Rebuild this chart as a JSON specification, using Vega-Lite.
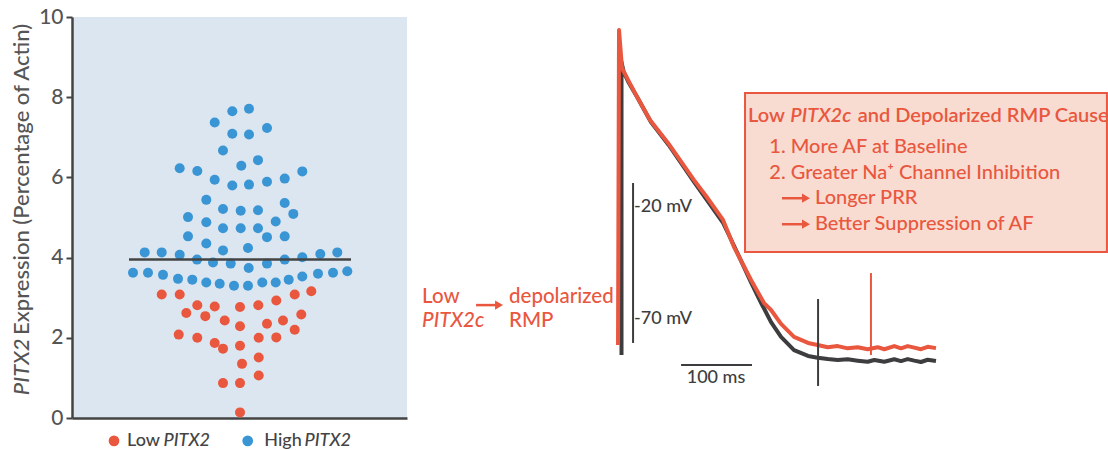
{
  "$schema": "https://vega.github.io/schema/vega-lite/v6.json",
  "padding": {"left": 10, "top": 6, "right": 0, "bottom": 0},
  "background": "white",
  "config": {"font": "Lato", "view": {"stroke": null}, "text": {"fontWeight": 500}},
  "bounds": "flush",
  "spacing": 0,
  "resolve": {"scale": {"x": "independent", "y": "independent", "color": "independent"}},
  "datasets": {
    "swarm": [
      {"group": "Low PITX2", "jitter": -78.3, "expression": 3.08},
      {"group": "Low PITX2", "jitter": -60.3, "expression": 3.08},
      {"group": "Low PITX2", "jitter": -53.7, "expression": 2.62},
      {"group": "Low PITX2", "jitter": -42.7, "expression": 2.81},
      {"group": "Low PITX2", "jitter": -34.7, "expression": 2.54},
      {"group": "Low PITX2", "jitter": -25.3, "expression": 2.78},
      {"group": "Low PITX2", "jitter": -15.3, "expression": 2.43},
      {"group": "Low PITX2", "jitter": 0, "expression": 2.77},
      {"group": "Low PITX2", "jitter": 0, "expression": 2.29},
      {"group": "Low PITX2", "jitter": 18.3, "expression": 2.81},
      {"group": "Low PITX2", "jitter": 27, "expression": 2.35},
      {"group": "Low PITX2", "jitter": 36.3, "expression": 2.93},
      {"group": "Low PITX2", "jitter": 43, "expression": 2.43},
      {"group": "Low PITX2", "jitter": 54.7, "expression": 3.08},
      {"group": "Low PITX2", "jitter": 61.3, "expression": 2.58},
      {"group": "Low PITX2", "jitter": 71.3, "expression": 3.16},
      {"group": "Low PITX2", "jitter": 54.7, "expression": 2.2},
      {"group": "Low PITX2", "jitter": -61.3, "expression": 2.08},
      {"group": "Low PITX2", "jitter": -42.7, "expression": 2.0},
      {"group": "Low PITX2", "jitter": -25.3, "expression": 1.87},
      {"group": "Low PITX2", "jitter": -17, "expression": 1.73},
      {"group": "Low PITX2", "jitter": 0, "expression": 1.8},
      {"group": "Low PITX2", "jitter": 18.7, "expression": 2.0},
      {"group": "Low PITX2", "jitter": 36.3, "expression": 2.01},
      {"group": "Low PITX2", "jitter": 2, "expression": 1.35},
      {"group": "Low PITX2", "jitter": 18.7, "expression": 1.51},
      {"group": "Low PITX2", "jitter": 18.7, "expression": 1.06},
      {"group": "Low PITX2", "jitter": -17, "expression": 0.87},
      {"group": "Low PITX2", "jitter": 0, "expression": 0.87},
      {"group": "Low PITX2", "jitter": 0, "expression": 0.14},
      {"group": "High PITX2", "jitter": -107, "expression": 3.62},
      {"group": "High PITX2", "jitter": -92, "expression": 3.62},
      {"group": "High PITX2", "jitter": -77, "expression": 3.57},
      {"group": "High PITX2", "jitter": -62, "expression": 3.47},
      {"group": "High PITX2", "jitter": -47.7, "expression": 3.45},
      {"group": "High PITX2", "jitter": -33.7, "expression": 3.38},
      {"group": "High PITX2", "jitter": -20.3, "expression": 3.35},
      {"group": "High PITX2", "jitter": -6, "expression": 3.3},
      {"group": "High PITX2", "jitter": 8, "expression": 3.3},
      {"group": "High PITX2", "jitter": 22.3, "expression": 3.38},
      {"group": "High PITX2", "jitter": 35.7, "expression": 3.38},
      {"group": "High PITX2", "jitter": 48.7, "expression": 3.45},
      {"group": "High PITX2", "jitter": 62.3, "expression": 3.53},
      {"group": "High PITX2", "jitter": 78, "expression": 3.6},
      {"group": "High PITX2", "jitter": 93, "expression": 3.62},
      {"group": "High PITX2", "jitter": 107.3, "expression": 3.66},
      {"group": "High PITX2", "jitter": -95.3, "expression": 4.13},
      {"group": "High PITX2", "jitter": -78.3, "expression": 4.13},
      {"group": "High PITX2", "jitter": -60.3, "expression": 4.07},
      {"group": "High PITX2", "jitter": -43, "expression": 3.95},
      {"group": "High PITX2", "jitter": -27, "expression": 3.88},
      {"group": "High PITX2", "jitter": -9.3, "expression": 3.85},
      {"group": "High PITX2", "jitter": 8.7, "expression": 3.74},
      {"group": "High PITX2", "jitter": 27, "expression": 3.85},
      {"group": "High PITX2", "jitter": 44.7, "expression": 3.95},
      {"group": "High PITX2", "jitter": 62.3, "expression": 4.01},
      {"group": "High PITX2", "jitter": 80.3, "expression": 4.09},
      {"group": "High PITX2", "jitter": 97.3, "expression": 4.13},
      {"group": "High PITX2", "jitter": -33.7, "expression": 4.35},
      {"group": "High PITX2", "jitter": -17, "expression": 4.18},
      {"group": "High PITX2", "jitter": 8, "expression": 4.24},
      {"group": "High PITX2", "jitter": -52, "expression": 4.53},
      {"group": "High PITX2", "jitter": -17, "expression": 4.73},
      {"group": "High PITX2", "jitter": 0.7, "expression": 4.73},
      {"group": "High PITX2", "jitter": 18, "expression": 4.73},
      {"group": "High PITX2", "jitter": 27, "expression": 4.51},
      {"group": "High PITX2", "jitter": 44.7, "expression": 4.53},
      {"group": "High PITX2", "jitter": -33.7, "expression": 4.88},
      {"group": "High PITX2", "jitter": -52, "expression": 5.01},
      {"group": "High PITX2", "jitter": 35.7, "expression": 4.9},
      {"group": "High PITX2", "jitter": 53.3, "expression": 5.09},
      {"group": "High PITX2", "jitter": -17, "expression": 5.21},
      {"group": "High PITX2", "jitter": 0.7, "expression": 5.17},
      {"group": "High PITX2", "jitter": 18, "expression": 5.18},
      {"group": "High PITX2", "jitter": -33.7, "expression": 5.44},
      {"group": "High PITX2", "jitter": 44.7, "expression": 5.36},
      {"group": "High PITX2", "jitter": -60.3, "expression": 6.23},
      {"group": "High PITX2", "jitter": -42.7, "expression": 6.16},
      {"group": "High PITX2", "jitter": -25.3, "expression": 5.94},
      {"group": "High PITX2", "jitter": -7.7, "expression": 5.8},
      {"group": "High PITX2", "jitter": 9, "expression": 5.82},
      {"group": "High PITX2", "jitter": 27, "expression": 5.89},
      {"group": "High PITX2", "jitter": 44.7, "expression": 5.97},
      {"group": "High PITX2", "jitter": 62.3, "expression": 6.15},
      {"group": "High PITX2", "jitter": 1.3, "expression": 6.29},
      {"group": "High PITX2", "jitter": 18, "expression": 6.43},
      {"group": "High PITX2", "jitter": -17, "expression": 6.67},
      {"group": "High PITX2", "jitter": -7.7, "expression": 7.09},
      {"group": "High PITX2", "jitter": 9, "expression": 7.07},
      {"group": "High PITX2", "jitter": 27, "expression": 7.23},
      {"group": "High PITX2", "jitter": -25.3, "expression": 7.37},
      {"group": "High PITX2", "jitter": -7.7, "expression": 7.65},
      {"group": "High PITX2", "jitter": 9, "expression": 7.71}
    ],
    "traces": [
      {"series": "Normal", "i": 0, "t": 2.5, "v": -85.9},
      {"series": "Normal", "i": 1, "t": 2.5, "v": 45},
      {"series": "Normal", "i": 2, "t": 5.5, "v": 40.5},
      {"series": "Normal", "i": 3, "t": 13, "v": 35.5},
      {"series": "Normal", "i": 4, "t": 24.5, "v": 29.3},
      {"series": "Normal", "i": 5, "t": 44, "v": 18.1},
      {"series": "Normal", "i": 6, "t": 69, "v": 7.9},
      {"series": "Normal", "i": 7, "t": 105, "v": -8.7},
      {"series": "Normal", "i": 8, "t": 146, "v": -27},
      {"series": "Normal", "i": 9, "t": 164, "v": -39},
      {"series": "Normal", "i": 10, "t": 186, "v": -54},
      {"series": "Normal", "i": 11, "t": 200, "v": -63},
      {"series": "Normal", "i": 12, "t": 213.4, "v": -71.2},
      {"series": "Normal", "i": 13, "t": 227.5, "v": -77.8},
      {"series": "Normal", "i": 14, "t": 245.8, "v": -83.7},
      {"series": "Normal", "i": 15, "t": 265.6, "v": -86.3},
      {"series": "Normal", "i": 16, "t": 279.2, "v": -87.1},
      {"series": "Normal", "i": 17, "t": 293.3, "v": -87.7},
      {"series": "Normal", "i": 18, "t": 307.4, "v": -88.1},
      {"series": "Normal", "i": 19, "t": 321.5, "v": -87.8},
      {"series": "Normal", "i": 20, "t": 335.6, "v": -88.4},
      {"series": "Normal", "i": 21, "t": 349.7, "v": -88.9},
      {"series": "Normal", "i": 22, "t": 359.0, "v": -88.1},
      {"series": "Normal", "i": 23, "t": 373.1, "v": -88.9},
      {"series": "Normal", "i": 24, "t": 387.2, "v": -87.8},
      {"series": "Normal", "i": 25, "t": 396.6, "v": -88.6},
      {"series": "Normal", "i": 26, "t": 406.1, "v": -87.7},
      {"series": "Normal", "i": 27, "t": 415.4, "v": -88.4},
      {"series": "Normal", "i": 28, "t": 424.8, "v": -89.0},
      {"series": "Normal", "i": 29, "t": 434.3, "v": -88.0},
      {"series": "Normal", "i": 30, "t": 446.0, "v": -88.6},
      {"series": "Low PITX2c", "i": 0, "t": -2.4, "v": -81.4},
      {"series": "Low PITX2c", "i": 1, "t": -1.0, "v": 59.2},
      {"series": "Low PITX2c", "i": 2, "t": 3.2, "v": 42.2},
      {"series": "Low PITX2c", "i": 3, "t": 11.7, "v": 36.9},
      {"series": "Low PITX2c", "i": 4, "t": 23.0, "v": 30.2},
      {"series": "Low PITX2c", "i": 5, "t": 42.7, "v": 19.0},
      {"series": "Low PITX2c", "i": 6, "t": 68.1, "v": 8.8},
      {"series": "Low PITX2c", "i": 7, "t": 104.8, "v": -7.8},
      {"series": "Low PITX2c", "i": 8, "t": 121.7, "v": -14.9},
      {"series": "Low PITX2c", "i": 9, "t": 145.7, "v": -25.6},
      {"series": "Low PITX2c", "i": 10, "t": 161.2, "v": -37.7},
      {"series": "Low PITX2c", "i": 11, "t": 185.2, "v": -52.4},
      {"series": "Low PITX2c", "i": 12, "t": 203.5, "v": -62.7},
      {"series": "Low PITX2c", "i": 13, "t": 213.4, "v": -65.8},
      {"series": "Low PITX2c", "i": 14, "t": 227.5, "v": -72.0},
      {"series": "Low PITX2c", "i": 15, "t": 245.8, "v": -77.8},
      {"series": "Low PITX2c", "i": 16, "t": 265.6, "v": -80.5},
      {"series": "Low PITX2c", "i": 17, "t": 279.2, "v": -81.4},
      {"series": "Low PITX2c", "i": 18, "t": 293.3, "v": -82.4},
      {"series": "Low PITX2c", "i": 19, "t": 307.4, "v": -81.9},
      {"series": "Low PITX2c", "i": 20, "t": 321.5, "v": -82.9},
      {"series": "Low PITX2c", "i": 21, "t": 335.6, "v": -82.4},
      {"series": "Low PITX2c", "i": 22, "t": 349.7, "v": -83.3},
      {"series": "Low PITX2c", "i": 23, "t": 363.8, "v": -82.4},
      {"series": "Low PITX2c", "i": 24, "t": 373.1, "v": -83.3},
      {"series": "Low PITX2c", "i": 25, "t": 387.2, "v": -81.9},
      {"series": "Low PITX2c", "i": 26, "t": 396.6, "v": -82.9},
      {"series": "Low PITX2c", "i": 27, "t": 406.1, "v": -81.9},
      {"series": "Low PITX2c", "i": 28, "t": 415.4, "v": -82.6},
      {"series": "Low PITX2c", "i": 29, "t": 424.8, "v": -83.3},
      {"series": "Low PITX2c", "i": 30, "t": 434.3, "v": -82.2},
      {"series": "Low PITX2c", "i": 31, "t": 446.0, "v": -82.8}
    ]
  },
  "hconcat": [
    {
      "width": 335,
      "height": 401,
      "view": {"fill": "#dce6f0", "stroke": null},
      "layer": [
        {
          "data": {"name": "swarm"},
          "mark": {"type": "circle", "size": 100, "opacity": 1},
          "encoding": {
            "x": {"field": "jitter", "type": "quantitative", "scale": {"domain": [-168, 167], "nice": false, "zero": false},
                  "axis": {"labels": false, "ticks": false, "grid": false, "title": null, "domainColor": "#444444", "domainWidth": 2.5}},
            "y": {"field": "expression", "type": "quantitative", "scale": {"domain": [0, 10], "nice": false},
                  "axis": {"values": [0, 2, 4, 6, 8, 10], "grid": false, "title": null, "labelFontSize": 21, "labelColor": "#555555", "labelFont": "Lato", "labelFontWeight": 500,
                           "tickColor": "#444444", "tickWidth": 2, "tickSize": 6, "domainColor": "#444444", "domainWidth": 2.5, "labelPadding": 3}},
            "color": {"field": "group", "type": "nominal", "scale": {"domain": ["Low PITX2", "High PITX2"], "range": ["#e9573f", "#3a95d4"]}, "legend": null}
          }
        },
        {
          "data": {"values": [{}]},
          "mark": {"type": "rule", "color": "#444444", "strokeWidth": 2.5},
          "encoding": {
            "x": {"datum": -111, "scale": {"domain": [-168, 167], "nice": false, "zero": false}},
            "x2": {"datum": 111},
            "y": {"datum": 3.95, "scale": {"domain": [0, 10], "nice": false}}
          }
        },
        {
          "data": {"values": [{}]},
          "mark": {"type": "circle", "size": 115, "opacity": 1, "color": "#e9573f", "clip": false},
          "encoding": {"x": {"datum": -126}, "y": {"datum": -0.57}}
        },
        {
          "data": {"values": [{}]},
          "mark": {"type": "circle", "size": 115, "opacity": 1, "color": "#3a95d4", "clip": false},
          "encoding": {"x": {"datum": 7.7}, "y": {"datum": -0.57}}
        },
        {
          "data": {"values": [{}]},
          "mark": {"type": "text", "text": "Low", "align": "left", "baseline": "middle", "fontSize": 18, "color": "#444444", "font": "Lato"},
          "encoding": {"x": {"datum": -113}, "y": {"datum": -0.57}}
        },
        {
          "data": {"values": [{}]},
          "mark": {"type": "text", "text": "PITX2", "align": "left", "baseline": "middle", "fontSize": 18, "fontStyle": "italic", "color": "#444444", "font": "Lato"},
          "encoding": {"x": {"datum": -76.5}, "y": {"datum": -0.57}}
        },
        {
          "data": {"values": [{}]},
          "mark": {"type": "text", "text": "High", "align": "left", "baseline": "middle", "fontSize": 18, "color": "#444444", "font": "Lato"},
          "encoding": {"x": {"datum": 24.3}, "y": {"datum": -0.57}}
        },
        {
          "data": {"values": [{}]},
          "mark": {"type": "text", "text": "PITX2", "align": "left", "baseline": "middle", "fontSize": 18, "fontStyle": "italic", "color": "#444444", "font": "Lato"},
          "encoding": {"x": {"datum": 64.5}, "y": {"datum": -0.57}}
        },
        {
          "data": {"values": [{}]},
          "mark": {"type": "text", "text": "PITX2", "align": "left", "baseline": "middle", "angle": 270, "fontSize": 22, "fontStyle": "italic", "color": "#555555", "font": "Lato"},
          "encoding": {"x": {"datum": -218}, "y": {"datum": 0.57}}
        },
        {
          "data": {"values": [{}]},
          "mark": {"type": "text", "text": "Expression (Percentage of Actin)", "align": "left", "baseline": "middle", "angle": 270, "fontSize": 22, "color": "#555555", "font": "Lato"},
          "encoding": {"x": {"datum": -218}, "y": {"datum": 2.07}}
        }
      ]
    },
    {
      "width": 702,
      "height": 401,
      "layer": [
        {
          "data": {"values": [{"t1": 176.7, "t2": 687.1, "v1": 31.1, "v2": -39.9}]},
          "mark": {"type": "rect", "fill": "#f8dcd1", "stroke": "#e9573f", "strokeWidth": 2},
          "encoding": {
            "x": {"field": "t1", "type": "quantitative", "scale": {"domain": [-300, 690], "nice": false, "zero": false}, "axis": null},
            "x2": {"field": "t2"},
            "y": {"field": "v1", "type": "quantitative", "scale": {"domain": [-114, 65], "nice": false, "zero": false}, "axis": null},
            "y2": {"field": "v2"}
          }
        },
        {
          "data": {"name": "traces"},
          "transform": [{"filter": "datum.series === 'Normal'"}],
          "mark": {"type": "line", "color": "#3d3d40", "strokeWidth": 4, "strokeJoin": "round"},
          "encoding": {
            "x": {"field": "t", "type": "quantitative"},
            "y": {"field": "v", "type": "quantitative"},
            "order": {"field": "i", "type": "quantitative"}
          }
        },
        {
          "data": {"name": "traces"},
          "transform": [{"filter": "datum.series === 'Low PITX2c'"}],
          "mark": {"type": "line", "color": "#e9573f", "strokeWidth": 4, "strokeJoin": "round"},
          "encoding": {
            "x": {"field": "t", "type": "quantitative"},
            "y": {"field": "v", "type": "quantitative"},
            "order": {"field": "i", "type": "quantitative"}
          }
        },
        {
          "data": {"values": [
            {"t1": 18.8, "t2": 18.8, "v1": -9.1, "v2": -80.5},
            {"t1": 86.5, "t2": 186.5, "v1": -90.3, "v2": -90.3},
            {"t1": 279.7, "t2": 279.7, "v1": -60.9, "v2": -99.7}
          ]},
          "mark": {"type": "rule", "color": "#3d3d40", "strokeWidth": 2},
          "encoding": {
            "x": {"field": "t1", "type": "quantitative"}, "x2": {"field": "t2"},
            "y": {"field": "v1", "type": "quantitative"}, "y2": {"field": "v2"}
          }
        },
        {
          "data": {"values": [{"t1": 354.3, "t2": 354.3, "v1": -49.3, "v2": -85.9}]},
          "mark": {"type": "rule", "color": "#e9573f", "strokeWidth": 2},
          "encoding": {
            "x": {"field": "t1", "type": "quantitative"}, "x2": {"field": "t2"},
            "y": {"field": "v1", "type": "quantitative"}, "y2": {"field": "v2"}
          }
        },
        {
          "data": {"values": [
            {"from": -202.6, "to": -170.2, "level": -63.6},
            {"from": 228.8, "to": 262.7, "level": -15.9},
            {"from": 228.8, "to": 262.7, "level": -27.5}
          ]},
          "layer": [
            {
              "mark": {"type": "rule", "color": "#e9573f", "strokeWidth": 2.5},
              "encoding": {
                "x": {"field": "from", "type": "quantitative"}, "x2": {"field": "to"},
                "y": {"field": "level", "type": "quantitative"}
              }
            },
            {
              "mark": {"type": "point", "shape": "triangle-right", "filled": true, "size": 85, "color": "#e9573f", "opacity": 1},
              "encoding": {
                "x": {"field": "to", "type": "quantitative"},
                "y": {"field": "level", "type": "quantitative"}
              }
            }
          ]
        },
        {
          "data": {"values": [
            {"label": "-20 mV", "t": 20.2, "v": -19.8},
            {"label": "-70 mV", "t": 20.2, "v": -69.8}
          ]},
          "mark": {"type": "text", "align": "left", "baseline": "middle", "fontSize": 18, "color": "#3d3d40", "font": "Lato"},
          "encoding": {"x": {"field": "t", "type": "quantitative"}, "y": {"field": "v", "type": "quantitative"}, "text": {"field": "label"}}
        },
        {
          "data": {"values": [{"label": "100 ms", "t": 135.8, "v": -96.2}]},
          "mark": {"type": "text", "align": "center", "baseline": "middle", "fontSize": 18, "color": "#3d3d40", "font": "Lato"},
          "encoding": {"x": {"field": "t", "type": "quantitative"}, "y": {"field": "v", "type": "quantitative"}, "text": {"field": "label"}}
        },
        {
          "data": {"values": [
            {"label": "Low", "t": -278.8, "v": -59.8},
            {"label": "depolarized", "t": -156.1, "v": -59.8},
            {"label": "RMP", "t": -156.1, "v": -70.9}
          ]},
          "mark": {"type": "text", "align": "left", "baseline": "middle", "fontSize": 20.5, "color": "#e9573f", "font": "Lato"},
          "encoding": {"x": {"field": "t", "type": "quantitative"}, "y": {"field": "v", "type": "quantitative"}, "text": {"field": "label"}}
        },
        {
          "data": {"values": [{"label": "PITX2c", "t": -278.8, "v": -70.9}]},
          "mark": {"type": "text", "align": "left", "baseline": "middle", "fontSize": 20.5, "fontStyle": "italic", "color": "#e9573f", "font": "Lato"},
          "encoding": {"x": {"field": "t", "type": "quantitative"}, "y": {"field": "v", "type": "quantitative"}, "text": {"field": "label"}}
        },
        {
          "data": {"values": [
            {"label": "1. More AF at Baseline", "t": 211.0, "v": 7.1},
            {"label": "2. Greater Na⁺ Channel Inhibition", "t": 211.0, "v": -4.5},
            {"label": "Longer PRR", "t": 275.4, "v": -15.9},
            {"label": "Better Suppression of AF", "t": 275.4, "v": -27.5}
          ]},
          "mark": {"type": "text", "align": "left", "baseline": "middle", "fontSize": 20, "color": "#e9573f", "font": "Lato"},
          "encoding": {"x": {"field": "t", "type": "quantitative"}, "y": {"field": "v", "type": "quantitative"}, "text": {"field": "label"}}
        },
        {
          "data": {"values": [
            {"label": "Low", "t": 181.0, "v": 20.8},
            {"label": "and Depolarized RMP Cause", "t": 335.6, "v": 20.8}
          ]},
          "mark": {"type": "text", "align": "left", "baseline": "middle", "fontSize": 20, "fontWeight": 600, "color": "#e9573f", "font": "Lato"},
          "encoding": {"x": {"field": "t", "type": "quantitative"}, "y": {"field": "v", "type": "quantitative"}, "text": {"field": "label"}}
        },
        {
          "data": {"values": [{"label": "PITX2c", "t": 240.5, "v": 20.8}]},
          "mark": {"type": "text", "align": "left", "baseline": "middle", "fontSize": 20, "fontWeight": 600, "fontStyle": "italic", "color": "#e9573f", "font": "Lato"},
          "encoding": {"x": {"field": "t", "type": "quantitative"}, "y": {"field": "v", "type": "quantitative"}, "text": {"field": "label"}}
        }
      ]
    }
  ]
}
